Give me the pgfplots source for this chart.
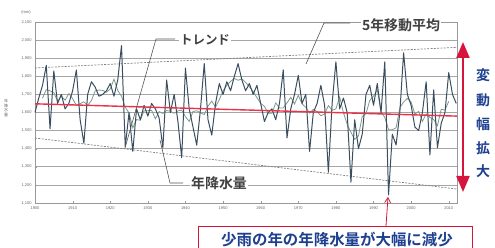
\documentclass[border=0pt]{standalone}
\usepackage{pgfplots}
\pgfplotsset{compat=1.18}
\usepackage{fontspec}
\setmainfont{Liberation Sans}
\newfontfamily\jp{Noto Sans CJK JP}
\newfontfamily\jpb{Noto Sans CJK JP}[BoldFont={* Bold}]
\usetikzlibrary{arrows.meta}
\definecolor{annual}{HTML}{3A4E60}
\definecolor{ma}{HTML}{7D9A8A}
\definecolor{trend}{HTML}{E8334A}
\definecolor{crim}{HTML}{D6153C}
\definecolor{navy}{HTML}{1D3F8F}
\definecolor{lead}{HTML}{555555}
\begin{document}
\begin{tikzpicture}
\useasboundingbox (0,0) rectangle (495bp,248bp);
\begin{axis}[
  at={(35bp,45bp)}, anchor=south west,
  scale only axis, width=422bp, height=181bp,
  xmin=1900, xmax=2012.2, ymin=1100, ymax=2100,
  xtick={1900,1910,...,2010},
  ytick={1100,1200,...,2100},
  /pgf/number format/1000 sep={,},
  /pgf/number format/assume math mode=true,
  x tick label style={/pgf/number format/1000 sep={}},
  tick label style={font=\fontsize{4}{5}\selectfont, text=black!60},
  ymajorgrids, grid style={black!35, line width=0.6pt},
  axis line style={black!40, line width=0.6pt},
  tick style={black!40},
  major tick length=2bp,
  xtick pos=bottom, ytick pos=left,
  clip=false,
]
% upper / lower variability dashed lines
\addplot[black!50, dash pattern=on 2bp off 1.3bp, line width=0.7pt] coordinates {(1900,1846) (2012.2,1960)};
\addplot[black!50, dash pattern=on 2bp off 1.3bp, line width=0.7pt] coordinates {(1900,1459) (2012.2,1177)};
% 5-year moving average
\addplot[ma, line width=0.8pt] coordinates {
(1902,1680)(1903,1726)(1904,1720)(1905,1710)(1906,1662)(1907,1690)(1908,1668)(1909,1705)
(1910,1677)(1911,1639)(1912,1649)(1913,1659)(1914,1640)(1915,1666)(1916,1720)(1917,1724)
(1918,1722)(1919,1712)(1920,1730)(1921,1784)(1922,1722)(1923,1690)(1924,1629)(1925,1597)
(1926,1515)(1927,1561)(1928,1557)(1929,1610)(1930,1610)(1931,1612)(1932,1565)(1933,1605)
(1934,1595)(1935,1611)(1936,1607)(1937,1596)(1938,1609)(1939,1613)(1940,1577)(1941,1551)
(1942,1605)(1943,1610)(1944,1598)(1945,1589)(1946,1635)(1947,1663)(1948,1629)(1949,1671)
(1950,1720)(1951,1750)(1952,1772)(1953,1788)(1954,1778)(1955,1786)(1956,1766)(1957,1742)
(1958,1716)(1959,1682)(1960,1650)(1961,1634)(1962,1596)(1963,1596)(1964,1653)(1965,1625)
(1966,1625)(1967,1653)(1968,1684)(1969,1647)(1970,1695)(1971,1648)(1972,1628)(1973,1597)
(1974,1617)(1975,1605)(1976,1582)(1977,1592)(1978,1638)(1979,1612)(1980,1620)(1981,1686)
(1982,1599)(1983,1535)(1984,1491)(1985,1451)(1986,1471)(1987,1578)(1988,1594)(1989,1666)
(1990,1690)(1991,1726)(1992,1605)(1993,1573)(1994,1505)(1995,1505)(1996,1515)(1997,1626)
(1998,1658)(1999,1678)(2000,1658)(2001,1592)(2002,1606)(2003,1551)(2004,1592)(2005,1573)
(2006,1561)(2007,1527)(2008,1618)(2009,1613)(2010,1662)};
% annual precipitation
\addplot[annual, line width=1pt, line join=round] coordinates {
(1900,1600)(1901,1680)(1902,1750)(1903,1860)(1904,1510)(1905,1830)(1906,1650)(1907,1700)
(1908,1620)(1909,1650)(1910,1720)(1911,1835)(1912,1560)(1913,1430)(1914,1700)(1915,1770)
(1916,1740)(1917,1690)(1918,1700)(1919,1720)(1920,1760)(1921,1690)(1922,1780)(1923,1970)
(1924,1410)(1925,1600)(1926,1385)(1927,1620)(1928,1560)(1929,1640)(1930,1580)(1931,1650)
(1932,1620)(1933,1570)(1934,1405)(1935,1780)(1936,1600)(1937,1700)(1938,1550)(1939,1350)
(1940,1845)(1941,1620)(1942,1520)(1943,1420)(1944,1620)(1945,1870)(1946,1560)(1947,1475)
(1948,1650)(1949,1760)(1950,1700)(1951,1770)(1952,1720)(1953,1800)(1954,1870)(1955,1780)
(1956,1720)(1957,1760)(1958,1700)(1959,1750)(1960,1650)(1961,1550)(1962,1600)(1963,1620)
(1964,1560)(1965,1650)(1966,1835)(1967,1460)(1968,1620)(1969,1700)(1970,1805)(1971,1650)
(1972,1700)(1973,1385)(1974,1600)(1975,1650)(1976,1750)(1977,1640)(1978,1270)(1979,1650)
(1980,1880)(1981,1620)(1982,1680)(1983,1600)(1984,1215)(1985,1560)(1986,1400)(1987,1480)
(1988,1700)(1989,1750)(1990,1640)(1991,1760)(1992,1600)(1993,1880)(1994,1145)(1995,1480)
(1996,1420)(1997,1600)(1998,1930)(1999,1700)(2000,1640)(2001,1520)(2002,1500)(2003,1600)
(2004,1770)(2005,1365)(2006,1725)(2007,1405)(2008,1540)(2009,1600)(2010,1820)(2011,1700)
(2012,1650)};
% trend line
\addplot[trend, line width=1.4pt] coordinates {(1900,1648) (2012.2,1580)};
\end{axis}
% unit and y label
\node[font=\fontsize{4}{5}\selectfont, text=black!60] at (26bp,236bp) {(mm)};
\node[font=\jp\fontsize{4}{4.6}\selectfont, text=black!60, align=center, inner sep=0pt] at (6bp,140bp) {年\\降\\水\\量};
% leaders
\draw[lead, line width=0.6pt] (125bp,100bp) -- (156bp,209bp) -- (175bp,209bp);
\node[fill=white, inner sep=1pt, font=\jpb\bfseries\fontsize{12.5}{12.5}\selectfont, text=black!75] at (205bp,208bp) {トレンド};
\draw[lead, line width=0.6pt] (306bp,184bp) -- (324bp,225bp) -- (350bp,225bp);
\node[fill=white, inner sep=1pt, font=\jpb\bfseries\fontsize{14}{14}\selectfont, text=black!75] at (401bp,223bp) {5年移動平均};
\draw[lead, line width=0.6pt] (160bp,108bp) -- (170bp,65bp) -- (183bp,65bp);
\node[fill=white, inner sep=1pt, font=\jpb\bfseries\fontsize{14}{14}\selectfont, text=black!75] at (219bp,65bp) {年降水量};
% right double arrow
\draw[crim, line width=2.2pt, {Triangle[width=13bp,length=16bp]}-{Triangle[width=13bp,length=16bp]}] (463bp,206bp) -- (463bp,56bp);
\node[font=\jpb\bfseries\fontsize{14}{14}\selectfont, text=navy, inner sep=0pt] at (483bp,173bp) {変};
\node[font=\jpb\bfseries\fontsize{14}{14}\selectfont, text=navy, inner sep=0pt] at (483bp,148bp) {動};
\node[font=\jpb\bfseries\fontsize{14}{14}\selectfont, text=navy, inner sep=0pt] at (483bp,124bp) {幅};
\node[font=\jpb\bfseries\fontsize{14}{14}\selectfont, text=navy, inner sep=0pt] at (483bp,100bp) {拡};
\node[font=\jpb\bfseries\fontsize{14}{14}\selectfont, text=navy, inner sep=0pt] at (483bp,77bp) {大};
% bottom box
\draw[crim, line width=0.8pt] (198bp,-12bp) rectangle (472bp,22bp);
\node[font=\jpb\bfseries\fontsize{15.5}{15.5}\selectfont, text=navy] at (337bp,8bp) {少雨の年の年降水量が大幅に減少};
\draw[crim, line width=0.8pt, -{Straight Barb[length=5bp,width=6bp]}] (386bp,22bp) -- (388bp,51bp);
\end{tikzpicture}
\end{document}
